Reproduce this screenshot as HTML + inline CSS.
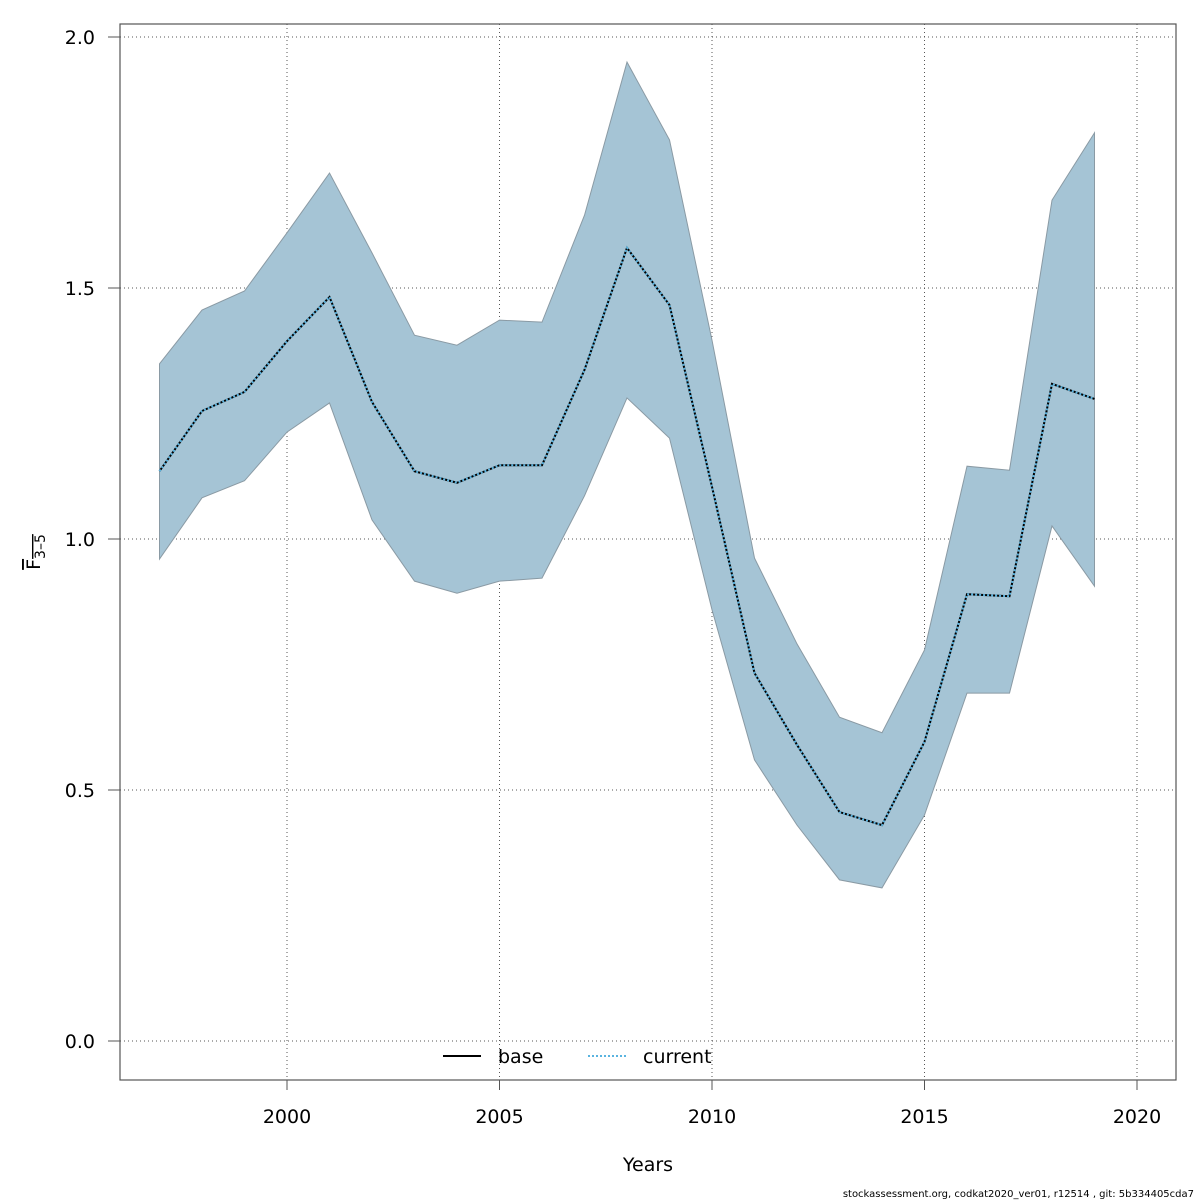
<!DOCTYPE html>
<html><head><meta charset="utf-8"><style>
html,body{margin:0;padding:0;background:#fff;}
svg{display:block;font-family:"DejaVu Sans","Liberation Sans",sans-serif;}
</style></head><body>
<svg id="chart" width="1200" height="1200" viewBox="0 0 1200 1200">
<rect width="1200" height="1200" fill="#fff"/>
<g id="grid"></g>
<g id="band"></g>
<g id="lines"></g>
<rect x="120" y="24" width="1056" height="1056" fill="none" stroke="#555" stroke-width="1.2"/>
<g id="axes"></g>
<text x="648" y="1171" font-size="19" text-anchor="middle">Years</text>
<g transform="translate(40,552) rotate(-90)">
<text x="0" y="0" font-size="19" text-anchor="middle" text-decoration="overline">F<tspan font-size="14" dy="5">3–5</tspan></text>
</g>
<g>
<line x1="443" y1="1056" x2="481" y2="1056" stroke="#000" stroke-width="2"/>
<text x="498" y="1063" font-size="19">base</text>
<line x1="588" y1="1056" x2="626" y2="1056" stroke="#5ab4e0" stroke-width="2" stroke-dasharray="2,2"/>
<text x="643" y="1063" font-size="19">current</text>
</g>
<text x="1194" y="1197" font-size="10" text-anchor="end">stockassessment.org, codkat2020_ver01, r12514 , git: 5b334405cda7</text>
</svg>
<script>
const years=[1997,1998,1999,2000,2001,2002,2003,2004,2005,2006,2007,2008,2009,2010,2011,2012,2013,2014,2015,2016,2017,2018,2019];
const meanF=[1.135,1.255,1.293,1.394,1.482,1.273,1.135,1.112,1.147,1.147,1.337,1.580,1.466,1.104,0.733,0.590,0.456,0.430,0.596,0.890,0.886,1.309,1.279];
const upperF=[1.349,1.456,1.494,1.610,1.729,1.570,1.406,1.386,1.436,1.432,1.645,1.950,1.795,1.396,0.962,0.791,0.645,0.614,0.779,1.145,1.137,1.675,1.809];
const lowerF=[0.960,1.082,1.116,1.213,1.271,1.038,0.916,0.892,0.916,0.922,1.086,1.281,1.201,0.859,0.560,0.430,0.321,0.305,0.450,0.693,0.693,1.026,0.906];
const xTicks=[2000,2005,2010,2015,2020];
const yTicks=[0,0.5,1.0,1.5,2.0];
const yTickLabels=["0.0","0.5","1.0","1.5","2.0"];
const NS="http://www.w3.org/2000/svg";
const X=v=>287+(v-2000)*42.5;
const Y=v=>1041-v*502;
function mk(t,a,p){const e=document.createElementNS(NS,t);for(const k in a)e.setAttribute(k,a[k]);p.appendChild(e);return e;}
const grid=document.getElementById('grid'),axes=document.getElementById('axes');
xTicks.forEach(t=>{
 const g=mk('line',{x1:X(t),x2:X(t),y1:24,y2:1080,stroke:'#555','stroke-dasharray':'1,3','stroke-width':1},grid);
 
 
 const tk=mk('line',{x1:X(t),x2:X(t),y1:1080,y2:1090,stroke:'#555'},axes);
 
 
 const tx=mk('text',{x:X(t),y:1123,'font-size':19,'text-anchor':'middle'},axes);
 tx.textContent=t;
 
 
});
yTicks.forEach((t,i)=>{
 const g=mk('line',{x1:120,x2:1176,y1:Y(t),y2:Y(t),stroke:'#555','stroke-dasharray':'1,3','stroke-width':1},grid);
 
 
 const tk=mk('line',{x1:108,x2:120,y1:Y(t),y2:Y(t),stroke:'#555'},axes);
 
 
 const tx=mk('text',{x:95,y:Y(t)+7,'font-size':19,'text-anchor':'end'},axes);
 tx.textContent=yTickLabels[i];
 
 
});
let pts=years.map((y,i)=>X(y)+','+Y(upperF[i]));
for(let i=years.length-1;i>=0;i--)pts.push(X(years[i])+','+Y(lowerF[i]));
const band=mk('polygon',{points:pts.join(' '),fill:'#a5c4d5',stroke:'#8a9aa4','stroke-width':1},document.getElementById('band'));


const lp=years.map((y,i)=>X(y)+','+Y(meanF[i])).join(' ');
const lg=document.getElementById('lines');
const b=mk('polyline',{points:lp,fill:'none',stroke:'#000','stroke-width':2},lg);


const c=mk('polyline',{points:lp,fill:'none',stroke:'#5ab4e0','stroke-width':2,'stroke-dasharray':'2,2'},lg);


</script>
</body></html>
